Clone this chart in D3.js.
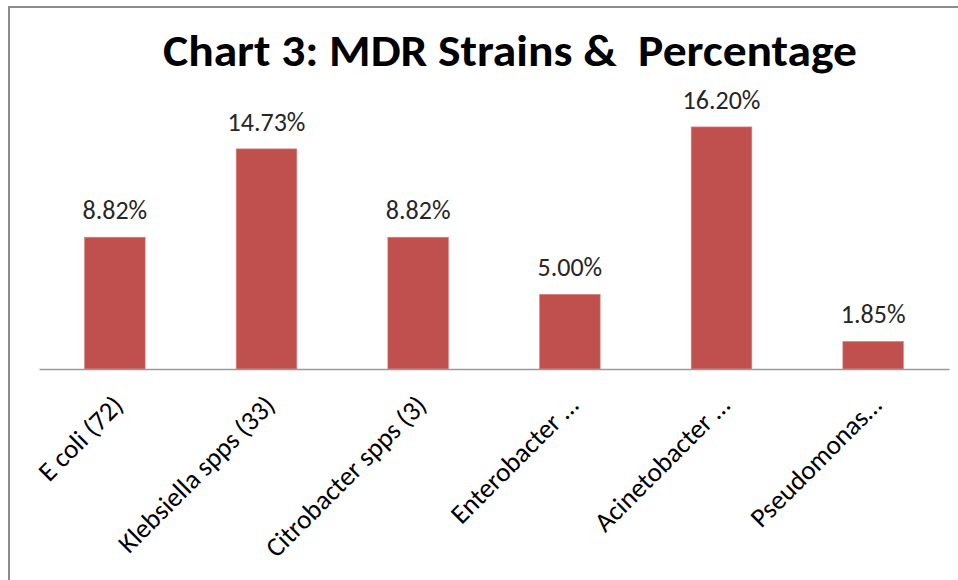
<!DOCTYPE html>
<html>
<head>
<meta charset="utf-8">
<script src="https://cdn.jsdelivr.net/npm/d3@7"></script>
<style>
  html, body { margin: 0; padding: 0; background: #fff; }
  svg { display: block; }
</style>
</head>
<body>
<svg id="chart" width="958" height="580"></svg>
<script>
// MDR strains by organism (isolate counts in brackets) and their percentages
const categories = [
  "E coli (72)",
  "Klebsiella spps (33)",
  "Citrobacter spps (3)",
  "Enterobacter …",
  "Acinetobacter …",
  "Pseudomonas…"
];
const percentages = [8.82, 14.73, 8.82, 5.00, 16.20, 1.85];
const valueLabels = ["8.82%", "14.73%", "8.82%", "5.00%", "16.20%", "1.85%"];
const titleText = "Chart 3: MDR Strains &\u00A0\u00A0Percentage";

const FONT = "Carlito, Lato, 'Open Sans', sans-serif";
const BAR = "#C0504D";

const svg = d3.select("#chart");

// chart frame (top and left edges visible)
svg.append("rect")
  .attr("x", 9).attr("y", 7)
  .attr("width", 1000).attr("height", 600)
  .attr("fill", "#fff")
  .attr("stroke", "#8c8c8c")
  .attr("stroke-width", 2);

const plot = { left: 39, right: 949, top: 100, bottom: 369 };

const x = d3.scaleBand()
  .domain(categories)
  .range([plot.left, plot.right])
  .paddingInner(0.6)
  .paddingOuter(0.3);

const y = d3.scaleLinear()
  .domain([0, 18])
  .range([plot.bottom, plot.top]);

const data = categories.map((c, i) => ({ c, v: percentages[i], label: valueLabels[i] }));

// title
svg.append("text")
  .attr("x", 510).attr("y", 66)
  .attr("text-anchor", "middle")
  .attr("font-family", FONT)
  .attr("font-weight", "bold")
  .attr("font-size", 44)
  .attr("textLength", 694)
  .attr("lengthAdjust", "spacingAndGlyphs")
  .attr("fill", "#000")
  .text(titleText);

// bars
svg.append("g").selectAll("rect")
  .data(data)
  .join("rect")
  .attr("x", d => x(d.c))
  .attr("width", x.bandwidth())
  .attr("y", d => y(d.v))
  .attr("height", d => y(0) - y(d.v))
  .attr("fill", BAR)
  .attr("stroke", "#d98a88")
  .attr("stroke-width", 0.6);

// value labels
svg.append("g").selectAll("text")
  .data(data)
  .join("text")
  .attr("x", d => x(d.c) + x.bandwidth() / 2)
  .attr("y", d => y(d.v) - 18)
  .attr("text-anchor", "middle")
  .attr("font-family", FONT)
  .attr("font-size", 26)
  .attr("fill", "#262626")
  .text(d => d.label);

// category axis
const xAxis = d3.axisBottom(x).tickSize(0).tickPadding(0);
const gx = svg.append("g")
  .attr("transform", `translate(0,${plot.bottom})`)
  .call(xAxis);
gx.select(".domain")
  .attr("stroke", "#9a9a9a")
  .attr("stroke-width", 1.6);
gx.selectAll(".tick text")
  .attr("font-family", FONT)
  .attr("font-size", 27)
  .attr("fill", "#000")
  .attr("text-anchor", "end")
  .attr("dy", 0)
  .attr("y", 0)
  .attr("transform", "translate(10,38) rotate(-45)");
</script>
</body>
</html>
